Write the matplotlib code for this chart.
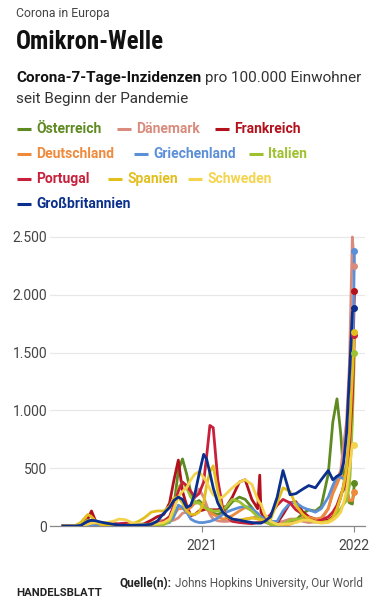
import matplotlib
matplotlib.use("Agg")
import matplotlib.pyplot as plt
import matplotlib.dates as mdates
from matplotlib.lines import Line2D
import numpy as np
import pandas as pd

# ---------------- data ----------------
dates = pd.to_datetime([
    "2020-02-01", "2020-02-15", "2020-03-01", "2020-03-15", "2020-04-01", "2020-04-10",
    "2020-04-20", "2020-05-01", "2020-05-15", "2020-06-01", "2020-06-15", "2020-07-01",
    "2020-07-15", "2020-08-01", "2020-08-15", "2020-09-01", "2020-09-15", "2020-10-01",
    "2020-10-15", "2020-10-25", "2020-11-05", "2020-11-15", "2020-11-25", "2020-12-05",
    "2020-12-15", "2020-12-25",
    "2021-01-05", "2021-01-12", "2021-01-20", "2021-01-28", "2021-02-08", "2021-02-20",
    "2021-03-01", "2021-03-15", "2021-04-01", "2021-04-15", "2021-05-01", "2021-05-15",
    "2021-05-20", "2021-05-23", "2021-06-01", "2021-06-15", "2021-07-01", "2021-07-15",
    "2021-08-01", "2021-08-15", "2021-09-01", "2021-09-15", "2021-10-01", "2021-10-15",
    "2021-11-01", "2021-11-12", "2021-11-22", "2021-12-01", "2021-12-08", "2021-12-15",
    "2021-12-22", "2021-12-29",
    "2022-01-03",
])

oesterreich = [0, 0, 0, 10, 50, 30, 12, 5, 2, 3, 4, 6, 10, 14, 12, 20, 40, 45, 80, 160, 480, 580, 450, 290, 200, 220,
               180, 150, 120, 110, 100, 120, 150, 210, 250, 230, 160, 90, 70, 60, 40, 15, 8, 12, 25, 50, 110, 140, 130, 170, 450, 900, 1100, 800, 450, 270, 200, 190,
               370]
daenemark = [0, 0, 2, 10, 25, 30, 25, 15, 8, 4, 3, 2, 5, 10, 10, 15, 40, 50, 45, 50, 70, 110, 120, 180, 250, 320,
             250, 180, 100, 60, 45, 40, 40, 45, 50, 60, 70, 80, 80, 80, 70, 45, 30, 40, 60, 60, 40, 30, 35, 50, 150, 300, 400, 480, 700, 900, 1400, 2500,
             2250]
frankreich = [0, 0, 1, 10, 60, 130, 40, 20, 5, 3, 3, 4, 5, 8, 20, 50, 80, 100, 200, 390, 570, 300, 180, 90, 100, 130,
              140, 150, 140, 140, 140, 160, 170, 250, 380, 400, 230, 150, 440, 120, 60, 30, 25, 100, 200, 210, 120, 80, 60, 50, 50, 80, 150, 250, 350, 500, 750, 1300,
              2030]
deutschland = [0, 0, 1, 15, 40, 25, 15, 7, 4, 3, 3, 4, 5, 10, 10, 12, 15, 20, 40, 90, 150, 150, 140, 160, 200, 200,
               160, 150, 120, 100, 80, 60, 65, 90, 130, 160, 140, 90, 70, 60, 35, 15, 7, 8, 15, 35, 75, 75, 60, 70, 150, 280, 360, 440, 420, 340, 220, 220,
               290]
griechenland = [0, 0, 0, 2, 5, 3, 2, 1, 1, 1, 1, 1, 2, 5, 8, 12, 15, 20, 30, 80, 180, 160, 120, 60, 40, 30,
                30, 35, 40, 50, 70, 100, 120, 140, 160, 170, 150, 110, 90, 80, 60, 40, 40, 130, 200, 200, 160, 140, 120, 150, 250, 350, 430, 420, 410, 340, 350, 1200,
                2380]
italien = [0, 0, 2, 20, 50, 40, 30, 15, 5, 2, 1, 1, 1, 2, 5, 10, 10, 12, 40, 130, 330, 380, 330, 250, 200, 200,
           170, 150, 140, 130, 130, 140, 170, 230, 210, 170, 130, 80, 70, 60, 40, 15, 10, 15, 50, 60, 60, 50, 35, 30, 40, 70, 110, 150, 190, 220, 350, 900,
           1500]
portugal = [0, 0, 0, 5, 40, 50, 35, 20, 20, 20, 20, 25, 15, 10, 10, 15, 25, 40, 80, 180, 300, 380, 350, 300, 250, 280,
            380, 600, 870, 850, 400, 150, 80, 40, 30, 25, 20, 30, 30, 30, 50, 100, 180, 230, 200, 140, 100, 60, 40, 50, 80, 120, 180, 270, 320, 390, 700, 1100,
            1650]
spanien = [0, 0, 2, 30, 100, 80, 40, 15, 5, 3, 3, 4, 15, 40, 70, 120, 130, 130, 170, 240, 250, 200, 130, 100, 100, 120,
           200, 350, 470, 520, 300, 130, 80, 60, 50, 60, 70, 60, 55, 55, 50, 60, 200, 330, 300, 180, 100, 60, 35, 30, 40, 70, 150, 250, 350, 500, 800, 1300,
           1680]
schweden = [0, 0, 1, 5, 15, 25, 30, 30, 30, 40, 60, 55, 30, 20, 15, 15, 20, 30, 60, 150, 250, 300, 330, 400, 450, 470,
            420, 380, 320, 270, 240, 250, 280, 330, 380, 400, 360, 230, 200, 190, 100, 40, 15, 15, 20, 30, 50, 50, 35, 25, 30, 50, 80, 120, 200, 300, 500, 700,
            700]
grossbritannien = [0, 0, 0, 5, 40, 50, 45, 35, 25, 15, 8, 6, 6, 8, 10, 15, 40, 110, 160, 220, 250, 230, 160, 180, 280, 450,
                   620, 580, 460, 330, 200, 120, 90, 60, 50, 40, 30, 25, 25, 25, 40, 80, 250, 480, 270, 280, 320, 350, 330, 400, 480, 400, 430, 450, 550, 800, 1300, 1850,
                   1890]

countries = ["Österreich", "Dänemark", "Frankreich", "Deutschland", "Griechenland",
             "Italien", "Portugal", "Spanien", "Schweden", "Großbritannien"]
series = [oesterreich, daenemark, frankreich, deutschland, griechenland,
          italien, portugal, spanien, schweden, grossbritannien]
colors = ["#5f8a22", "#d98b7d", "#b3121c", "#ee8a3c", "#5b8fd8",
          "#9dc12f", "#c8203a", "#e2bf1d", "#f4d44e", "#0a2f8c"]

yticks = [0, 500, 1000, 1500, 2000, 2500]
ytick_labels = ["0", "500", "1.000", "1.500", "2.000", "2.500"]
xticks = pd.to_datetime(["2021-01-01", "2022-01-01"])
xtick_labels = ["2021", "2022"]

# ---------------- figure ----------------
W, H = 386, 600
fig = plt.figure(figsize=(W / 100, H / 100), dpi=100)
fig.patch.set_facecolor("white")

def fx(px):
    return px / W

def fy(py):
    return 1 - py / H

FONT = "Roboto"

fig.text(fx(16), fy(13), "Corona in Europa", fontsize=8.8, color="#444444",
         family=FONT, va="center", ha="left")
fig.text(fx(16), fy(42), "Omikron-Welle", fontsize=17.8, color="#111111",
         family="Roboto Condensed", fontweight="bold",
         va="center", ha="left")

t1 = fig.text(fx(16), fy(78), "Corona-7-Tage-Inzidenzen", fontsize=11, color="#111111",
              family=FONT, fontweight="bold", va="center", ha="left")
fig.canvas.draw()
bb = t1.get_window_extent()
fig.text(fx(bb.x1 + 4), fy(78), "pro 100.000 Einwohner", fontsize=11, color="#333333",
         family=FONT, va="center", ha="left")
fig.text(fx(16), fy(99), "seit Beginn der Pandemie", fontsize=11, color="#333333",
         family=FONT, va="center", ha="left")

# legend (hand-built)
legend_layout = [
    (0, 17, 129), (1, 117, 129), (2, 215, 129),
    (3, 17, 154), (4, 134, 154), (5, 249, 154),
    (6, 17, 179), (7, 108, 179), (8, 188, 179),
    (9, 17, 204),
]
for idx, x0, y0 in legend_layout:
    fig.add_artist(Line2D([fx(x0), fx(x0 + 14)], [fy(y0), fy(y0)], color=colors[idx],
                          lw=2.2, solid_capstyle="butt", transform=fig.transFigure))
    fig.text(fx(x0 + 19), fy(y0), countries[idx], fontsize=10, color=colors[idx],
             family=FONT, fontweight="bold", va="center", ha="left")

# axes
ax_left, ax_right = 50, 365
y0_px, ytop_val = 526, 2600
px_per_val = 289 / 2500
ax_top = y0_px - ytop_val * px_per_val
ax = fig.add_axes([fx(ax_left), 1 - y0_px / H, (ax_right - ax_left) / W, (y0_px - ax_top) / H])

x2021 = mdates.date2num(pd.Timestamp("2021-01-01"))
px_per_day = 151.6 / 365
xmin = x2021 - (202 - ax_left) / px_per_day
xmax = x2021 + (ax_right - 202) / px_per_day
ax.set_xlim(xmin, xmax)
ax.set_ylim(0, ytop_val)

for vals, col in zip(series, colors):
    ax.plot(dates, vals, color=col, lw=2.0, solid_joinstyle="round", zorder=3)
for vals, col in zip(series, colors):
    ax.plot(dates[-1], vals[-1], "o", color=col, ms=4, zorder=4)

ax.set_yticks(yticks)
ax.set_yticklabels(ytick_labels)
ax.set_xticks(xticks)
ax.set_xticklabels(xtick_labels)
ax.grid(axis="y", color="#e8e8e8", lw=0.9, zorder=0)
for s in ["top", "right", "left"]:
    ax.spines[s].set_visible(False)
ax.spines["bottom"].set_color("#888888")
ax.spines["bottom"].set_linewidth(0.9)
ax.spines["bottom"].set_zorder(2)
ax.tick_params(axis="y", length=0, pad=2, labelsize=10, labelcolor="#444444")
ax.tick_params(axis="x", length=4, width=0.8, color="#888888", pad=5,
               labelsize=10, labelcolor="#444444")
for lab in ax.get_xticklabels() + ax.get_yticklabels():
    lab.set_family(FONT)

# footer
fig.text(fx(16), fy(593), "HANDELSBLATT", fontsize=8.2, color="#222222", family=FONT,
         fontweight="bold", va="center", ha="left")
q = fig.text(fx(120), fy(584), "Quelle(n):", fontsize=8.5, color="#222222", family=FONT,
             fontweight="bold", va="center", ha="left")
fig.canvas.draw()
qb = q.get_window_extent()
fig.text(fx(qb.x1 + 3), fy(584), "Johns Hopkins University, Our World", fontsize=8.5,
         color="#555555", family=FONT, va="center", ha="left")

fig.savefig("out.png", dpi=100, facecolor="white")
